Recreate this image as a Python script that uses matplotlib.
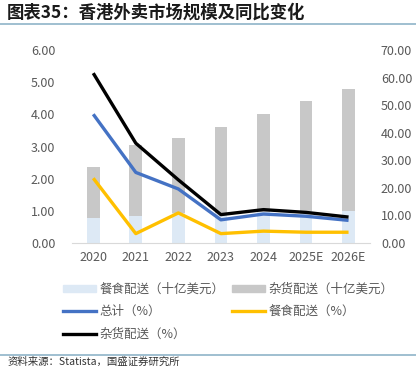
import matplotlib
matplotlib.use("Agg")
import matplotlib.pyplot as plt
from matplotlib.lines import Line2D
from matplotlib.patches import Patch
import numpy as np

plt.rcParams['font.family'] = ['Noto Sans CJK SC', 'DejaVu Sans']

years = ["2020", "2021", "2022", "2023", "2024", "2025E", "2026E"]
food_bn = [0.78, 0.85, 0.92, 0.93, 0.97, 0.98, 1.00]
grocery_bn = [1.57, 2.20, 2.34, 2.69, 3.05, 3.44, 3.79]
total_pct = [46.7, 25.6, 19.6, 8.4, 10.5, 9.7, 8.2]
food_pct = [23.5, 3.4, 10.9, 3.4, 4.3, 3.9, 3.9]
grocery_pct = [61.6, 36.2, 22.9, 10.3, 12.1, 11.1, 9.4]

title = "图表35：香港外卖市场规模及同比变化"
source = "资料来源：Statista，国盛证券研究所"
left_ticks = [0, 1, 2, 3, 4, 5, 6]
right_ticks = [0, 10, 20, 30, 40, 50, 60, 70]

c_food = "#dde9f5"
c_groc = "#c8c8c8"
c_total = "#4472c4"
c_foodp = "#ffc000"
c_grocp = "#000000"
tick_color = "#595959"

fig = plt.figure(figsize=(4.16, 3.68), dpi=100)
ax = fig.add_axes([0.173, 0.3397, 0.716, 0.5244])
x = np.arange(len(years))
w = 0.3
ax.bar(x, food_bn, w, color=c_food, zorder=1)
ax.bar(x, grocery_bn, w, bottom=food_bn, color=c_groc, zorder=1)
ax.set_ylim(0, 6)
ax.set_xlim(-0.5, len(years) - 0.5)
ax.set_yticks(left_ticks)
ax.set_yticklabels([f"{v:.2f}" for v in left_ticks])
ax.set_xticks(x)
ax.set_xticklabels(years)
for s in ["top", "right", "left"]:
    ax.spines[s].set_visible(False)
ax.spines["bottom"].set_color("#d9d9d9")
ax.tick_params(axis="both", length=0, colors=tick_color, labelsize=9)
ax.tick_params(axis="x", pad=6)
ax.tick_params(axis="y", pad=12)

ax2 = ax.twinx()
ax2.plot(x, total_pct, color=c_total, lw=2.4, solid_capstyle="butt")
ax2.plot(x, food_pct, color=c_foodp, lw=2.4, solid_capstyle="butt")
ax2.plot(x, grocery_pct, color=c_grocp, lw=2.4, solid_capstyle="butt")
ax2.set_ylim(0, 70)
ax2.set_yticks(right_ticks)
ax2.set_yticklabels([f"{v:.2f}" for v in right_ticks])
for s in ["top", "right", "left", "bottom"]:
    ax2.spines[s].set_visible(False)
ax2.tick_params(axis="y", length=0, colors=tick_color, labelsize=9, pad=8)

h_food = Patch(color=c_food, label="餐食配送（十亿美元）")
h_groc = Patch(color=c_groc, label="杂货配送（十亿美元）")
h_total = Line2D([], [], color=c_total, lw=2.4, label="总计（%）")
h_foodp = Line2D([], [], color=c_foodp, lw=2.4, label="餐食配送（%）")
h_grocp = Line2D([], [], color=c_grocp, lw=2.4, label="杂货配送（%）")
handles = [h_food, h_total, h_grocp, h_groc, h_foodp]
leg = fig.legend(handles=handles, ncol=2, loc="upper left",
                 bbox_to_anchor=(0.125, 0.262), frameon=False,
                 fontsize=9, labelcolor=tick_color, handlelength=2.6,
                 handleheight=0.5, handletextpad=0.3, columnspacing=0.6,
                 labelspacing=0.75)

fig.text(0.017, 0.967, title, fontsize=12.5, fontweight="bold", color="#1a1a1a",
         va="center", ha="left")
fig.add_artist(Line2D([0, 1], [1 - 24 / 368, 1 - 24 / 368], color="#8fb4c8", lw=1.2))
fig.add_artist(Line2D([0, 1], [1 - 355 / 368, 1 - 355 / 368], color="#8fb4c8", lw=1.2))
fig.text(0.017, 0.003, source, fontsize=7.5, color="#333333",
         va="bottom", ha="left")

fig.savefig("out.png", dpi=100)
